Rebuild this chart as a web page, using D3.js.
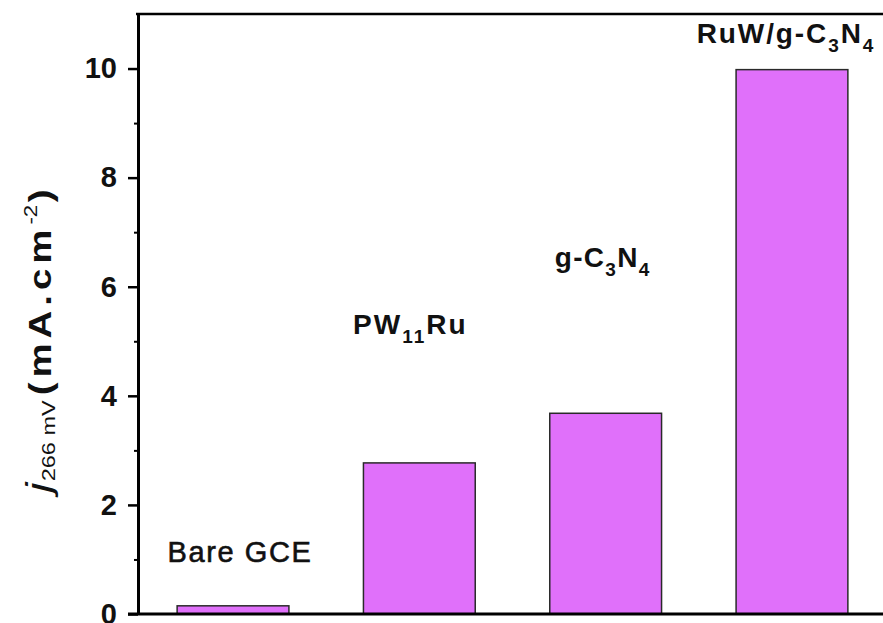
<!DOCTYPE html>
<html>
<head>
<meta charset="utf-8">
<script src="https://cdn.jsdelivr.net/npm/d3@7"></script>
<style>
  html, body { margin: 0; padding: 0; background: #fff; }
  svg { display: block; font-family: "Liberation Sans", Arial, sans-serif; }
</style>
</head>
<body>
<svg id="chart" width="883" height="623"></svg>
<script>
// Current density at 266 mV for each electrode
const categories = ["Bare GCE", "PW11Ru", "g-C3N4", "RuW/g-C3N4"];
const currentDensity = [0.15, 2.77, 3.68, 9.98];
const majorTicks = [0, 2, 4, 6, 8, 10];
const minorTicks = [1, 3, 5, 7, 9];

// Rich-text pieces for each sample name (sub = subscript)
const labelParts = [
  [{ t: "Bare GCE" }],
  [{ t: "PW" }, { t: "11", sub: true }, { t: "Ru" }],
  [{ t: "g-C" }, { t: "3", sub: true }, { t: "N" }, { t: "4", sub: true }],
  [{ t: "RuW/g-C" }, { t: "3", sub: true }, { t: "N" }, { t: "4", sub: true }]
];
// Height (in data units) at which each name sits
const labelLevel = [0.95, 5.13, 6.36, 10.47];

const svg = d3.select("#chart");
const plotLeft = 138, plotRight = 887, plotTop = 14, plotBottom = 614;

const x = d3.scaleBand()
  .domain(categories)
  .range([plotLeft, plotRight])
  .paddingInner(0.4)
  .paddingOuter(0.21);

const y = d3.scaleLinear().domain([0, 11]).range([plotBottom, plotTop]);

// Bars
svg.append("g")
  .selectAll("rect")
  .data(categories)
  .join("rect")
  .attr("x", d => x(d))
  .attr("width", x.bandwidth())
  .attr("y", (d, i) => y(currentDensity[i]))
  .attr("height", (d, i) => y(0) - y(currentDensity[i]))
  .attr("fill", "#e070fa")
  .attr("stroke", "#2a2a2a")
  .attr("stroke-width", 1.5);

// Frame: top and right edges
svg.append("path")
  .attr("d", `M${plotLeft - 2},${plotTop}H${plotRight}V${plotBottom}`)
  .attr("fill", "none")
  .attr("stroke", "#000")
  .attr("stroke-width", 2.5);

// Bottom axis line (extends to the left tick)
svg.append("line")
  .attr("x1", plotLeft - 10).attr("x2", plotRight)
  .attr("y1", plotBottom).attr("y2", plotBottom)
  .attr("stroke", "#000").attr("stroke-width", 3);

// Left axis with major ticks
const yAxis = svg.append("g")
  .attr("transform", `translate(${plotLeft},0)`)
  .call(d3.axisLeft(y).tickValues(majorTicks).tickSize(10).tickSizeOuter(0).tickPadding(11));
yAxis.select(".domain").attr("stroke-width", 3);
yAxis.selectAll(".tick line").attr("stroke-width", 2.5);
yAxis.selectAll(".tick text")
  .attr("font-size", 29)
  .attr("font-weight", "bold")
  .attr("font-family", "Liberation Sans, Arial, sans-serif")
  .attr("fill", "#111");

// Minor ticks
const yMinor = svg.append("g")
  .attr("transform", `translate(${plotLeft},0)`)
  .call(d3.axisLeft(y).tickValues(minorTicks).tickSize(4).tickSizeOuter(0).tickFormat(""));
yMinor.select(".domain").remove();
yMinor.selectAll(".tick line").attr("stroke-width", 2);

// Sample names
const labelStyle = [
  { weight: "normal", size: 29, spacing: 1.6, dx: 7, stroke: 0.6 },
  { weight: "bold", size: 28, spacing: 2, dx: -9, stroke: 0 },
  { weight: "bold", size: 28, spacing: 1.3, dx: -3, stroke: 0 },
  { weight: "bold", size: 28, spacing: 1.9, dx: -6, stroke: 0 }
];
categories.forEach((c, i) => {
  const st = labelStyle[i];
  const txt = svg.append("text")
    .attr("x", x(c) + x.bandwidth() / 2 + st.dx)
    .attr("y", y(labelLevel[i]))
    .attr("text-anchor", "middle")
    .attr("font-size", st.size)
    .attr("font-weight", st.weight)
    .attr("letter-spacing", st.spacing)
    .attr("fill", "#111")
    .attr("stroke", st.stroke ? "#111" : "none")
    .attr("stroke-width", st.stroke);
  let shifted = false;
  labelParts[i].forEach(p => {
    const ts = txt.append("tspan").text(p.t);
    if (p.sub) {
      ts.attr("font-size", 19).attr("dy", shifted ? 0 : 9);
      shifted = true;
    } else {
      if (shifted) ts.attr("dy", -9);
      shifted = false;
    }
  });
});

// Y axis title: j_266 mV (mA.cm^-2), stretched along its reading direction
const title = svg.append("text")
  .attr("transform", "translate(51,341) rotate(-90) scale(1.24,1)")
  .attr("text-anchor", "middle")
  .attr("fill", "#111");
title.append("tspan").text("j").attr("font-style", "italic").attr("font-size", 36);
title.append("tspan").text("266 mV").attr("font-size", 19).attr("dy", 4).attr("dx", 1);
title.append("tspan").text("(mA.cm").attr("font-size", 31).attr("font-weight", "bold")
  .attr("letter-spacing", 4).attr("dy", -4).attr("dx", 4);
title.append("tspan").text("-2").attr("font-size", 18).attr("dy", -14);
title.append("tspan").text(")").attr("font-size", 31).attr("font-weight", "bold").attr("dy", 14).attr("dx", 2);
</script>
</body>
</html>
